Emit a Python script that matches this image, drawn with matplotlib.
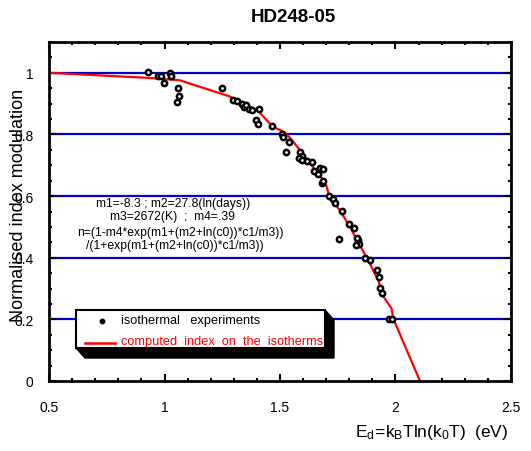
import matplotlib
matplotlib.use("Agg")
import matplotlib.pyplot as plt
from matplotlib.patches import Rectangle, Polygon
from matplotlib.lines import Line2D
from matplotlib.ticker import MultipleLocator, FixedLocator

plt.rcParams['font.family'] = ['Liberation Sans', 'DejaVu Sans']
plt.rcParams['mathtext.fontset'] = 'custom'
plt.rcParams['mathtext.rm'] = 'Liberation Sans'
plt.rcParams['mathtext.it'] = 'Liberation Sans'

# isothermal experiments: demarcation energy (eV) vs normalised index modulation
exp_ed = [0.928, 0.971, 0.986, 0.996, 1.022, 1.029, 1.057, 1.062, 1.055,
          1.249, 1.297, 1.312, 1.335, 1.345, 1.352, 1.366, 1.378, 1.409, 1.395,
          1.406, 1.467, 1.507, 1.513, 1.539, 1.524, 1.585, 1.594, 1.582, 1.596,
          1.618, 1.639, 1.647, 1.675, 1.685, 1.665, 1.682, 1.685, 1.711, 1.728,
          1.737, 1.768, 1.800, 1.819, 1.757, 1.838, 1.841, 1.829, 1.833, 1.869,
          1.891, 1.919, 1.930, 1.934, 1.941, 1.970, 1.984]
exp_n = [1.003, 0.989, 0.989, 0.967, 0.998, 0.990, 0.951, 0.924, 0.905,
         0.951, 0.913, 0.908, 0.900, 0.889, 0.896, 0.883, 0.878, 0.881, 0.847,
         0.834, 0.826, 0.800, 0.793, 0.775, 0.742, 0.742, 0.731, 0.723, 0.717,
         0.714, 0.711, 0.682, 0.691, 0.687, 0.671, 0.644, 0.649, 0.600, 0.589,
         0.578, 0.551, 0.508, 0.497, 0.461, 0.459, 0.444, 0.442, 0.464, 0.399,
         0.393, 0.360, 0.339, 0.301, 0.284, 0.200, 0.200]

# computed index on the isotherms
calc_ed = [0.50, 0.92, 1.05, 1.065, 1.28, 1.41, 1.466, 1.52, 1.553, 1.632,
           1.697, 1.711, 1.76, 1.797, 1.84, 1.884, 1.927, 1.948, 1.983, 1.99, 2.106]
calc_n = [1.000, 0.984, 0.977, 0.976, 0.924, 0.873, 0.827, 0.807, 0.781, 0.704,
          0.644, 0.605, 0.552, 0.508, 0.448, 0.389, 0.323, 0.274, 0.235, 0.203, 0.0]

ref_levels = [0.2, 0.4, 0.6, 0.8, 1.0]
x_ticks = [0.5, 1.0, 1.5, 2.0, 2.5]
x_labels = ['0.5', '1', '1.5', '2', '2.5']
y_ticks = [0.0, 0.2, 0.4, 0.6, 0.8, 1.0]
y_labels = ['0', '0.2', '0.4', '0.6', '0.8', '1']

W, H = 531, 452
fig = plt.figure(figsize=(W / 100, H / 100), dpi=100)
ax = fig.add_axes([49 / W, 1 - 382 / H, (511 - 49) / W, (382 - 43) / H])

for lv in ref_levels:
    ax.axhline(lv, color='#0000c8', lw=1.6, zorder=1)

ax.plot(calc_ed, calc_n, color='red', lw=1.6, zorder=2, clip_on=True)
ax.plot(exp_ed, exp_n, ls='none', marker='o', ms=3.8, mfc='white', mec='black',
        mew=1.8, zorder=3)

ax.set_xlim(0.5, 2.5)
ax.set_ylim(0, 1.1)
ax.xaxis.set_major_locator(FixedLocator(x_ticks))
ax.set_xticklabels(x_labels)
ax.yaxis.set_major_locator(FixedLocator(y_ticks))
ax.set_yticklabels(y_labels)
ax.xaxis.set_minor_locator(MultipleLocator(0.1))
ax.yaxis.set_minor_locator(MultipleLocator(0.05))
ax.tick_params(which='both', direction='in', top=True, right=True, width=1.5,
               labelsize=10)
ax.tick_params(which='major', length=5)
ax.tick_params(which='minor', length=2.5)
ax.tick_params(axis='x', pad=14)
ax.tick_params(axis='y', pad=11)
for sp in ax.spines.values():
    sp.set_linewidth(2)

fig.text(293 / W, 1 - 18 / H, 'HD248-05', fontsize=13.5, fontweight='bold',
         ha='center', va='center')
fig.text(19 / W, 1 - 205 / H, 'Normalised index modulation', fontsize=13,
         rotation=90, ha='center', va='center')
fig.text(508 / W, 1 - 433 / H, r'$\mathrm{E_d\!=\!k_B Tln(k_0T)\ \ (eV)}$',
         fontsize=12.5, ha='right', va='center')

# model description
for txt, cx, cy in [('m1=-8.3 ; m2=27.8(ln(days))', 173, 204),
                    ('m3=2672(K)  ;  m4=.39', 172, 217),
                    ('n=(1-m4*exp(m1+(m2+ln(c0))*c1/m3))', 180, 233),
                    ('/(1+exp(m1+(m2+ln(c0))*c1/m3))', 175, 246)]:
    fig.text(cx / W, 1 - cy / H, txt, fontsize=8.7, ha='center', va='center')

# legend box with extruded shadow
bx0, by0, bx1, by1 = 76, 311, 325, 349
dx, dy = 9, 10
shadow_px = [(bx1, by0), (bx1 + dx, by0 + dy), (bx1 + dx, by1 + dy),
             (bx0 + dx, by1 + dy), (bx0, by1)]
fig.patches.append(Polygon([(x / W, 1 - y / H) for x, y in shadow_px],
                           closed=True, transform=fig.transFigure,
                           facecolor='black', edgecolor='black', lw=1, zorder=5))
fig.patches.append(Rectangle((bx0 / W, 1 - by1 / H), (bx1 - bx0) / W,
                             (by1 - by0) / H, transform=fig.transFigure,
                             facecolor='white', edgecolor='black', lw=1.5,
                             zorder=6))
fig.lines.append(Line2D([101.7 / W], [1 - 322.3 / H], ls='none', marker='o',
                        ms=3.2, color='black', transform=fig.transFigure,
                        zorder=7))
fig.lines.append(Line2D([85 / W, 115 / W], [1 - 344 / H, 1 - 344 / H],
                        color='red', lw=1.8, transform=fig.transFigure, zorder=7))
fig.text(121 / W, 1 - 321.5 / H, 'isothermal   experiments', fontsize=9.2,
         ha='left', va='center', zorder=8)
fig.text(121 / W, 1 - 342 / H, 'computed  index  on  the  isotherms',
         fontsize=9.2, color='red', ha='left', va='center', zorder=8)

fig.savefig('out.png', dpi=100)
